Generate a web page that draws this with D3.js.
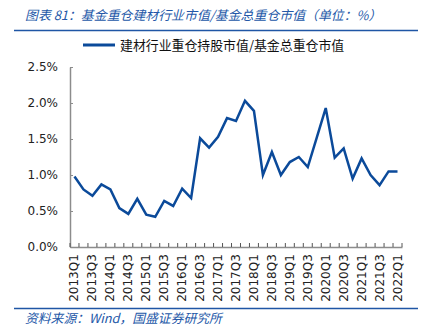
<!DOCTYPE html>
<html><head><meta charset="utf-8">
<script src="https://cdn.jsdelivr.net/npm/d3@7"></script>
<style>body{margin:0;background:#fff;}svg{display:block;}</style>
</head><body>
<script>
const categories = [];
const years = [2013,2014,2015,2016,2017,2018,2019,2020,2021,2022];
for (const y of years) for (let q=1;q<=4;q++){ if (y===2022 && q>1) break; categories.push(y+"Q"+q); }
const values = [0.98,0.80,0.71,0.87,0.80,0.54,0.46,0.67,0.45,0.42,0.64,0.57,0.81,0.68,1.51,1.38,
  1.53,1.79,1.75,2.03,1.89,1.00,1.32,1.00,1.18,1.25,1.11,1.52,1.93,1.24,1.37,0.95,1.23,1.00,0.86,1.05,1.05];
const yTicks = [0,0.5,1.0,1.5,2.0,2.5];
const titleText = "图表 81：基金重仓建材行业市值/基金总重仓市值（单位：%）";
const seriesName = "建材行业重仓持股市值/基金总重仓市值";
const sourceText = "资料来源：Wind，国盛证券研究所";

const W=429,H=335;
const svg=d3.select("body").append("svg").attr("width",W).attr("height",H);
const cjk="'Noto Sans CJK SC', sans-serif";

svg.append("text").attr("x",25).attr("y",20).text(titleText)
  .attr("font-family",cjk).attr("font-size",12.9).attr("font-style","italic").attr("fill","#2458a8");
svg.append("line").attr("x1",14).attr("x2",418).attr("y1",30.5).attr("y2",30.5).attr("stroke","#1f56a5").attr("stroke-width",1.5);

// legend
svg.append("line").attr("x1",83).attr("x2",115).attr("y1",45).attr("y2",45).attr("stroke","#0b4a9a").attr("stroke-width",3);
svg.append("text").attr("x",120).attr("y",49.5).text(seriesName)
  .attr("font-family",cjk).attr("font-size",12.9).attr("fill","#111");

const x=d3.scaleBand().domain(categories).range([70,402]);
const y=d3.scaleLinear().domain([0,2.5]).range([247,67]);

const g=svg.append("g");
// y axis
const ya=g.append("g").attr("transform","translate(70,0)")
  .call(d3.axisLeft(y).tickValues(yTicks).tickFormat(d=>d3.format(".1f")(d)+"%").tickSizeInner(-3).tickSizeOuter(0).tickPadding(12));
ya.select(".domain").attr("stroke","#8c8c8c").attr("stroke-width",1.5);
ya.selectAll(".tick line").attr("stroke","#8c8c8c");
ya.selectAll("text").attr("font-family","'DejaVu Sans'").attr("font-size",12).attr("fill","#222");

// x axis
const xa=g.append("g").attr("transform","translate(0,247)")
  .call(d3.axisBottom(x).tickSize(0).tickFormat((d,i)=> i%2===0?d:""));
xa.select(".domain").attr("stroke","#8c8c8c").attr("stroke-width",1.5);
xa.selectAll("text").attr("font-family","'DejaVu Sans'").attr("font-size",12).attr("fill","#222")
  .attr("transform","rotate(-90)").attr("text-anchor","end").attr("dx","-0.6em").attr("dy","-0.0em").attr("x",0).attr("y",0)
  .style("dominant-baseline","central");
// band boundary ticks (upward)
const bounds=categories.map(c=>x(c)).concat([x.range()[1]]);
xa.selectAll(".bt").data(bounds).enter().append("line")
  .attr("x1",d=>d).attr("x2",d=>d).attr("y1",0).attr("y2",-4).attr("stroke","#555").attr("stroke-width",1);

// line
const line=d3.line().x((d,i)=>x(categories[i])+x.bandwidth()/2).y(d=>y(d));
svg.append("path").datum(values).attr("d",line).attr("fill","none").attr("stroke","#0b4a9a").attr("stroke-width",2.5).attr("stroke-linejoin","miter");

svg.append("line").attr("x1",14).attr("x2",418).attr("y1",308.5).attr("y2",308.5).attr("stroke","#1f56a5").attr("stroke-width",1.5);
svg.append("text").attr("x",25).attr("y",323).text(sourceText)
  .attr("font-family",cjk).attr("font-size",12.8).attr("font-style","italic").attr("fill","#2458a8");
</script>
</body></html>
